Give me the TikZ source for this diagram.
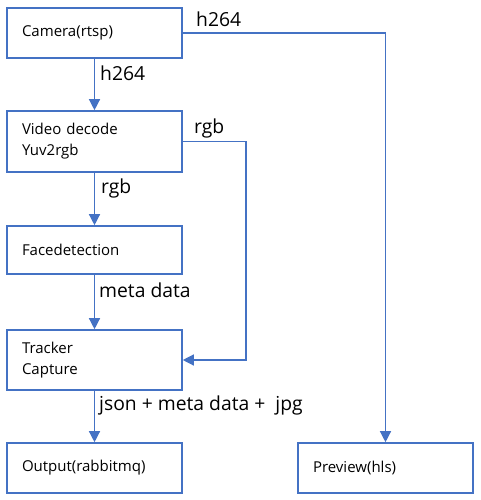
\documentclass[tikz,border=0pt]{standalone}
\usepackage{fontspec}
\setmainfont{Open Sans}
\usetikzlibrary{arrows.meta}
\definecolor{ln}{HTML}{4472C4}
\tikzset{
  box/.style={draw=ln, line width=1.6pt, rectangle, minimum width=175pt, text width=145pt,
    inner xsep=15pt, inner ysep=0pt, align=left, font=\fontsize{15}{21}\selectfont},
  conn/.style={draw=ln, line width=1.3pt, -{Triangle[width=11pt,length=11pt]}},
  lbl/.style={anchor=base west, inner sep=0pt, font=\fontsize{19.3}{22}\selectfont}
}
\begin{document}
\begin{tikzpicture}[x=1pt,y=1pt]
\useasboundingbox (0,0) rectangle (480,-500);
\node[box, minimum height=50pt] (cam) at (94.5,-33) {Camera(rtsp)};
\node[box, minimum height=61pt] (vid) at (94.5,-141.5) {Video decode\\Yuv2rgb};
\node[box, minimum height=48pt] (face) at (94.5,-250) {Facedetection};
\node[box, minimum height=60pt] (track) at (94.5,-360) {Tracker\\Capture};
\node[box, minimum height=50pt] (out) at (94.5,-468) {Output(rabbitmq)};
\node[box, minimum height=50pt] (prev) at (385.5,-468) {Preview(hls)};
\coordinate (c1) at (385.5,-33);
\coordinate (c2) at (246,-141.5);
\coordinate (c3) at (246,-360);
\draw[conn] (cam) -- (vid);
\draw[conn] (vid) -- (face);
\draw[conn] (face) -- (track);
\draw[conn] (track) -- (out);
\draw[conn] (cam.east) -- (c1) -- (prev.north);
\draw[conn] (vid.east) -- (c2) -- (c3) -- (track.east);
\node[lbl] (l1) at (196,-27) {h264};
\node[lbl] (l2) at (100,-81) {h264};
\node[lbl] (l3) at (194,-133) {rgb};
\node[lbl] (l4) at (101,-193) {rgb};
\node[lbl] (l5) at (99,-297) {meta data};
\node[lbl] (l6) at (99,-410) {json + meta data +\ \ jpg};
\end{tikzpicture}
\end{document}
